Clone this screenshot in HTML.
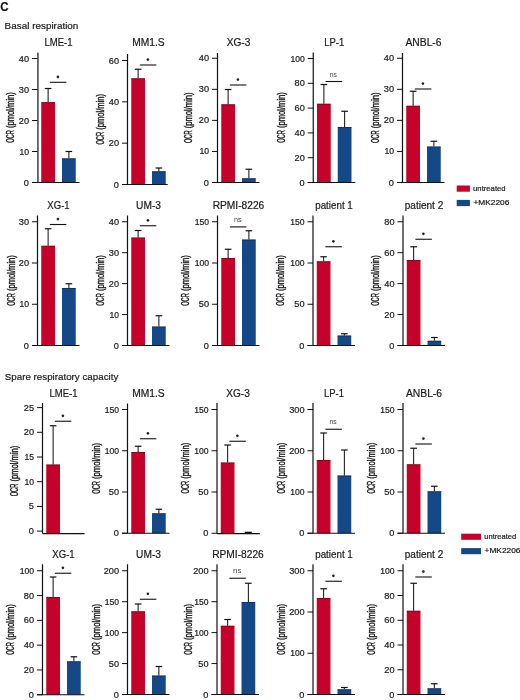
<!DOCTYPE html>
<html><head><meta charset="utf-8"><style>
html,body{margin:0;padding:0;background:#fff;}
svg{display:block;will-change:transform;}
text{font-family:"Liberation Sans",sans-serif;fill:#1a1a1a;stroke:#1a1a1a;stroke-width:0.2px;}
.tk{font-size:8.6px;text-anchor:end;}
.yl{font-size:10.2px;stroke-width:0.4px;}
.tt{font-size:10px;text-anchor:middle;}
.st{font-size:9px;text-anchor:middle;}
.ns{font-size:7.6px;text-anchor:middle;fill:#444;stroke:none;}
.lg{font-size:7.3px;}
.hd{font-size:9.8px;}
.hc{font-size:12px;font-weight:bold;fill:#111;}
</style></head><body>
<svg width="520" height="700" viewBox="0 0 520 700">

<text x="0.2" y="10.7" class="hc" textLength="8.3" lengthAdjust="spacingAndGlyphs">C</text>
<text x="4.6" y="29.2" class="hd" textLength="73.8" lengthAdjust="spacingAndGlyphs">Basal respiration</text>
<text x="4.8" y="380" class="hd" textLength="113.5" lengthAdjust="spacingAndGlyphs">Spare respiratory capacity</text>

<rect x="41.25" y="102.1" width="13.75" height="80.4" fill="#c5022a"/>
<rect x="62" y="158.3" width="13.75" height="24.2" fill="#144887"/>
<path d="M41.25 102.55H55" stroke="#000" stroke-opacity="0.35" stroke-width="0.9" fill="none"/>
<path d="M48.12 102.1V88.5" stroke="#1a1a1a" stroke-width="1.05" fill="none"/><path d="M44.83 88.5H51.42" stroke="#111" stroke-width="1.2" fill="none"/>
<path d="M62 158.75H75.75" stroke="#000" stroke-opacity="0.35" stroke-width="0.9" fill="none"/>
<path d="M68.88 158.3V151.5" stroke="#1a1a1a" stroke-width="1.05" fill="none"/><path d="M65.58 151.5H72.17" stroke="#111" stroke-width="1.2" fill="none"/>
<path d="M37.95 52.5V182.5M32 182.5H79.5" stroke="#111" stroke-width="1.2" fill="none"/>
<path d="M32 182.5H37.5M32 151.5H37.5M32 120.5H37.5M32 89.5H37.5M32 58.5H37.5" stroke="#111" stroke-width="1" fill="none"/>
<text x="29" y="185.5" class="tk" textLength="5.11" lengthAdjust="spacingAndGlyphs">0</text>
<text x="29" y="154.5" class="tk">10</text>
<text x="29" y="123.5" class="tk" textLength="10.23" lengthAdjust="spacingAndGlyphs">20</text>
<text x="29" y="92.5" class="tk" textLength="10.23" lengthAdjust="spacingAndGlyphs">30</text>
<text x="29" y="61.5" class="tk" textLength="10.23" lengthAdjust="spacingAndGlyphs">40</text>
<g transform="translate(13.7 117.5) rotate(-90)"><text class="yl" x="-25.3" textLength="12.6" lengthAdjust="spacingAndGlyphs">OCR</text><text class="yl" x="-10.6" textLength="36" lengthAdjust="spacingAndGlyphs">(pmol/min)</text></g>
<text x="58.5" y="46.4" class="tt" textLength="28" lengthAdjust="spacingAndGlyphs">LME-1</text>
<path d="M49.85 82.3H66.35" stroke="#111" stroke-width="1.1" fill="none"/>
<circle cx="57.9" cy="76.9" r="1.3" fill="#222"/>
<rect x="131.25" y="78.25" width="13.75" height="106.25" fill="#c5022a"/>
<rect x="152" y="171.25" width="13.75" height="13.25" fill="#144887"/>
<path d="M131.25 78.7H145" stroke="#000" stroke-opacity="0.35" stroke-width="0.9" fill="none"/>
<path d="M138.12 78.25V69.25" stroke="#1a1a1a" stroke-width="1.05" fill="none"/><path d="M134.82 69.25H141.43" stroke="#111" stroke-width="1.2" fill="none"/>
<path d="M152 171.7H165.75" stroke="#000" stroke-opacity="0.35" stroke-width="0.9" fill="none"/>
<path d="M158.88 171.25V168" stroke="#1a1a1a" stroke-width="1.05" fill="none"/><path d="M155.57 168H162.18" stroke="#111" stroke-width="1.2" fill="none"/>
<path d="M127.5 54V184.5M122 184.5H167.7" stroke="#111" stroke-width="1.2" fill="none"/>
<path d="M122 184.5H127.5M122 143.17H127.5M122 101.83H127.5M122 60.5H127.5" stroke="#111" stroke-width="1" fill="none"/>
<text x="119" y="187.5" class="tk" textLength="5.11" lengthAdjust="spacingAndGlyphs">0</text>
<text x="119" y="146.17" class="tk" textLength="10.23" lengthAdjust="spacingAndGlyphs">20</text>
<text x="119" y="104.83" class="tk" textLength="10.23" lengthAdjust="spacingAndGlyphs">40</text>
<text x="119" y="63.5" class="tk" textLength="10.23" lengthAdjust="spacingAndGlyphs">60</text>
<g transform="translate(103.9 119.25) rotate(-90)"><text class="yl" x="-25.3" textLength="12.6" lengthAdjust="spacingAndGlyphs">OCR</text><text class="yl" x="-10.6" textLength="36" lengthAdjust="spacingAndGlyphs">(pmol/min)</text></g>
<text x="148.5" y="46.4" class="tt" textLength="32.4" lengthAdjust="spacingAndGlyphs">MM1.S</text>
<path d="M139.85 65H156.35" stroke="#111" stroke-width="1.1" fill="none"/>
<circle cx="147.9" cy="59.6" r="1.3" fill="#222"/>
<rect x="221.25" y="104.25" width="13.75" height="78.25" fill="#c5022a"/>
<rect x="242" y="178.25" width="13.75" height="4.25" fill="#144887"/>
<path d="M221.25 104.7H235" stroke="#000" stroke-opacity="0.35" stroke-width="0.9" fill="none"/>
<path d="M228.12 104.25V89.5" stroke="#1a1a1a" stroke-width="1.05" fill="none"/><path d="M224.82 89.5H231.43" stroke="#111" stroke-width="1.2" fill="none"/>
<path d="M242 178.7H255.75" stroke="#000" stroke-opacity="0.35" stroke-width="0.9" fill="none"/>
<path d="M248.88 178.25V169.25" stroke="#1a1a1a" stroke-width="1.05" fill="none"/><path d="M245.57 169.25H252.18" stroke="#111" stroke-width="1.2" fill="none"/>
<path d="M217.5 53V182.5M212 182.5H259.5" stroke="#111" stroke-width="1.2" fill="none"/>
<path d="M212 182.5H217.5M212 151.44H217.5M212 120.38H217.5M212 89.31H217.5M212 58.25H217.5" stroke="#111" stroke-width="1" fill="none"/>
<text x="209" y="185.5" class="tk" textLength="5.11" lengthAdjust="spacingAndGlyphs">0</text>
<text x="209" y="154.44" class="tk">10</text>
<text x="209" y="123.38" class="tk" textLength="10.23" lengthAdjust="spacingAndGlyphs">20</text>
<text x="209" y="92.31" class="tk" textLength="10.23" lengthAdjust="spacingAndGlyphs">30</text>
<text x="209" y="61.25" class="tk" textLength="10.23" lengthAdjust="spacingAndGlyphs">40</text>
<g transform="translate(192.4 117.75) rotate(-90)"><text class="yl" x="-25.3" textLength="12.6" lengthAdjust="spacingAndGlyphs">OCR</text><text class="yl" x="-10.6" textLength="36" lengthAdjust="spacingAndGlyphs">(pmol/min)</text></g>
<text x="238.5" y="46.4" class="tt" textLength="23.6" lengthAdjust="spacingAndGlyphs">XG-3</text>
<path d="M229.85 85H246.35" stroke="#111" stroke-width="1.1" fill="none"/>
<circle cx="237.9" cy="79.6" r="1.3" fill="#222"/>
<rect x="317" y="103.75" width="13.75" height="78.75" fill="#c5022a"/>
<rect x="337.75" y="127" width="13.75" height="55.5" fill="#144887"/>
<path d="M317 104.2H330.75" stroke="#000" stroke-opacity="0.35" stroke-width="0.9" fill="none"/>
<path d="M323.88 103.75V84.5" stroke="#1a1a1a" stroke-width="1.05" fill="none"/><path d="M320.57 84.5H327.18" stroke="#111" stroke-width="1.2" fill="none"/>
<path d="M337.75 127.45H351.5" stroke="#000" stroke-opacity="0.35" stroke-width="0.9" fill="none"/>
<path d="M344.62 127V111.25" stroke="#1a1a1a" stroke-width="1.05" fill="none"/><path d="M341.32 111.25H347.93" stroke="#111" stroke-width="1.2" fill="none"/>
<path d="M313.25 52.5V182.5M307.75 182.5H355.25" stroke="#111" stroke-width="1.2" fill="none"/>
<path d="M307.75 182.5H313.25M307.75 157.7H313.25M307.75 132.9H313.25M307.75 108.1H313.25M307.75 83.3H313.25M307.75 58.5H313.25" stroke="#111" stroke-width="1" fill="none"/>
<text x="304.75" y="185.5" class="tk" textLength="5.11" lengthAdjust="spacingAndGlyphs">0</text>
<text x="304.75" y="160.7" class="tk" textLength="10.23" lengthAdjust="spacingAndGlyphs">20</text>
<text x="304.75" y="135.9" class="tk" textLength="10.23" lengthAdjust="spacingAndGlyphs">40</text>
<text x="304.75" y="111.1" class="tk" textLength="10.23" lengthAdjust="spacingAndGlyphs">60</text>
<text x="304.75" y="86.3" class="tk" textLength="10.23" lengthAdjust="spacingAndGlyphs">80</text>
<text x="304.75" y="61.5" class="tk">100</text>
<g transform="translate(284.65 117.5) rotate(-90)"><text class="yl" x="-25.3" textLength="12.6" lengthAdjust="spacingAndGlyphs">OCR</text><text class="yl" x="-10.6" textLength="36" lengthAdjust="spacingAndGlyphs">(pmol/min)</text></g>
<text x="334.25" y="46.4" class="tt" textLength="20" lengthAdjust="spacingAndGlyphs">LP-1</text>
<path d="M325.6 81.5H342.1" stroke="#111" stroke-width="1.1" fill="none"/>
<text x="333.45" y="76.6" class="ns" style="font-size:6.8px">ns</text>
<rect x="406.25" y="105.75" width="13.75" height="76.75" fill="#c5022a"/>
<rect x="427" y="146.5" width="13.75" height="36" fill="#144887"/>
<path d="M406.25 106.2H420" stroke="#000" stroke-opacity="0.35" stroke-width="0.9" fill="none"/>
<path d="M413.12 105.75V91.25" stroke="#1a1a1a" stroke-width="1.05" fill="none"/><path d="M409.82 91.25H416.43" stroke="#111" stroke-width="1.2" fill="none"/>
<path d="M427 146.95H440.75" stroke="#000" stroke-opacity="0.35" stroke-width="0.9" fill="none"/>
<path d="M433.88 146.5V141.25" stroke="#1a1a1a" stroke-width="1.05" fill="none"/><path d="M430.57 141.25H437.18" stroke="#111" stroke-width="1.2" fill="none"/>
<path d="M402.5 53V182.5M397 182.5H444.5" stroke="#111" stroke-width="1.2" fill="none"/>
<path d="M397 182.5H402.5M397 151.44H402.5M397 120.38H402.5M397 89.31H402.5M397 58.25H402.5" stroke="#111" stroke-width="1" fill="none"/>
<text x="394" y="185.5" class="tk" textLength="5.11" lengthAdjust="spacingAndGlyphs">0</text>
<text x="394" y="154.44" class="tk">10</text>
<text x="394" y="123.38" class="tk" textLength="10.23" lengthAdjust="spacingAndGlyphs">20</text>
<text x="394" y="92.31" class="tk" textLength="10.23" lengthAdjust="spacingAndGlyphs">30</text>
<text x="394" y="61.25" class="tk" textLength="10.23" lengthAdjust="spacingAndGlyphs">40</text>
<g transform="translate(378.9 117.75) rotate(-90)"><text class="yl" x="-25.3" textLength="12.6" lengthAdjust="spacingAndGlyphs">OCR</text><text class="yl" x="-10.6" textLength="36" lengthAdjust="spacingAndGlyphs">(pmol/min)</text></g>
<text x="423.5" y="46.4" class="tt" textLength="36.1" lengthAdjust="spacingAndGlyphs">ANBL-6</text>
<path d="M414.85 89H431.35" stroke="#111" stroke-width="1.1" fill="none"/>
<circle cx="422.9" cy="83.6" r="1.3" fill="#222"/>
<rect x="41.25" y="245.75" width="13.75" height="99.75" fill="#c5022a"/>
<rect x="62" y="288" width="13.75" height="57.5" fill="#144887"/>
<path d="M41.25 246.2H55" stroke="#000" stroke-opacity="0.35" stroke-width="0.9" fill="none"/>
<path d="M48.12 245.75V228.75" stroke="#1a1a1a" stroke-width="1.05" fill="none"/><path d="M44.83 228.75H51.42" stroke="#111" stroke-width="1.2" fill="none"/>
<path d="M62 288.45H75.75" stroke="#000" stroke-opacity="0.35" stroke-width="0.9" fill="none"/>
<path d="M68.88 288V283.75" stroke="#1a1a1a" stroke-width="1.05" fill="none"/><path d="M65.58 283.75H72.17" stroke="#111" stroke-width="1.2" fill="none"/>
<path d="M37.5 215.5V345.5M32 345.5H79.5" stroke="#111" stroke-width="1.2" fill="none"/>
<path d="M32 345.5H37.5M32 304.25H37.5M32 263H37.5M32 221.75H37.5" stroke="#111" stroke-width="1" fill="none"/>
<text x="29" y="348.5" class="tk" textLength="5.11" lengthAdjust="spacingAndGlyphs">0</text>
<text x="29" y="307.25" class="tk">10</text>
<text x="29" y="266" class="tk" textLength="10.23" lengthAdjust="spacingAndGlyphs">20</text>
<text x="29" y="224.75" class="tk" textLength="10.23" lengthAdjust="spacingAndGlyphs">30</text>
<g transform="translate(14.65 280.5) rotate(-90)"><text class="yl" x="-25.3" textLength="12.6" lengthAdjust="spacingAndGlyphs">OCR</text><text class="yl" x="-10.6" textLength="36" lengthAdjust="spacingAndGlyphs">(pmol/min)</text></g>
<text x="58.5" y="209.2" class="tt" textLength="22.35" lengthAdjust="spacingAndGlyphs">XG-1</text>
<path d="M49.85 224.5H66.35" stroke="#111" stroke-width="1.1" fill="none"/>
<circle cx="57.9" cy="219.1" r="1.3" fill="#222"/>
<rect x="131.25" y="237.5" width="13.75" height="108" fill="#c5022a"/>
<rect x="152" y="326.5" width="13.75" height="19" fill="#144887"/>
<path d="M131.25 237.95H145" stroke="#000" stroke-opacity="0.35" stroke-width="0.9" fill="none"/>
<path d="M138.12 237.5V230.5" stroke="#1a1a1a" stroke-width="1.05" fill="none"/><path d="M134.82 230.5H141.43" stroke="#111" stroke-width="1.2" fill="none"/>
<path d="M152 326.95H165.75" stroke="#000" stroke-opacity="0.35" stroke-width="0.9" fill="none"/>
<path d="M158.88 326.5V315.75" stroke="#1a1a1a" stroke-width="1.05" fill="none"/><path d="M155.57 315.75H162.18" stroke="#111" stroke-width="1.2" fill="none"/>
<path d="M127.5 215.5V345.5M122 345.5H169.5" stroke="#111" stroke-width="1.2" fill="none"/>
<path d="M122 345.5H127.5M122 314.56H127.5M122 283.62H127.5M122 252.69H127.5M122 221.75H127.5" stroke="#111" stroke-width="1" fill="none"/>
<text x="119" y="348.5" class="tk" textLength="5.11" lengthAdjust="spacingAndGlyphs">0</text>
<text x="119" y="317.56" class="tk">10</text>
<text x="119" y="286.62" class="tk" textLength="10.23" lengthAdjust="spacingAndGlyphs">20</text>
<text x="119" y="255.69" class="tk" textLength="10.23" lengthAdjust="spacingAndGlyphs">30</text>
<text x="119" y="224.75" class="tk" textLength="10.23" lengthAdjust="spacingAndGlyphs">40</text>
<g transform="translate(103.9 280.5) rotate(-90)"><text class="yl" x="-25.3" textLength="12.6" lengthAdjust="spacingAndGlyphs">OCR</text><text class="yl" x="-10.6" textLength="36" lengthAdjust="spacingAndGlyphs">(pmol/min)</text></g>
<text x="148.5" y="209.2" class="tt" textLength="24.9" lengthAdjust="spacingAndGlyphs">UM-3</text>
<path d="M139.85 225.75H156.35" stroke="#111" stroke-width="1.1" fill="none"/>
<circle cx="147.9" cy="220.35" r="1.3" fill="#222"/>
<rect x="221.25" y="258" width="13.75" height="87.5" fill="#c5022a"/>
<rect x="242" y="239.5" width="13.75" height="106" fill="#144887"/>
<path d="M221.25 258.45H235" stroke="#000" stroke-opacity="0.35" stroke-width="0.9" fill="none"/>
<path d="M228.12 258V249.25" stroke="#1a1a1a" stroke-width="1.05" fill="none"/><path d="M224.82 249.25H231.43" stroke="#111" stroke-width="1.2" fill="none"/>
<path d="M242 239.95H255.75" stroke="#000" stroke-opacity="0.35" stroke-width="0.9" fill="none"/>
<path d="M248.88 239.5V230.75" stroke="#1a1a1a" stroke-width="1.05" fill="none"/><path d="M245.57 230.75H252.18" stroke="#111" stroke-width="1.2" fill="none"/>
<path d="M217.5 215.5V345.5M212 345.5H259.5" stroke="#111" stroke-width="1.2" fill="none"/>
<path d="M212 345.5H217.5M212 304.25H217.5M212 263H217.5M212 221.75H217.5" stroke="#111" stroke-width="1" fill="none"/>
<text x="209" y="348.5" class="tk" textLength="5.11" lengthAdjust="spacingAndGlyphs">0</text>
<text x="209" y="307.25" class="tk" textLength="10.23" lengthAdjust="spacingAndGlyphs">50</text>
<text x="209" y="266" class="tk">100</text>
<text x="209" y="224.75" class="tk">150</text>
<g transform="translate(189.4 280.5) rotate(-90)"><text class="yl" x="-25.3" textLength="12.6" lengthAdjust="spacingAndGlyphs">OCR</text><text class="yl" x="-10.6" textLength="36" lengthAdjust="spacingAndGlyphs">(pmol/min)</text></g>
<text x="238.5" y="209.2" class="tt" textLength="51.6" lengthAdjust="spacingAndGlyphs">RPMI-8226</text>
<path d="M229.85 226.9H246.35" stroke="#111" stroke-width="1.1" fill="none"/>
<text x="237.7" y="222" class="ns" style="font-size:7.2px">ns</text>
<rect x="316.75" y="261.25" width="13.75" height="84.25" fill="#c5022a"/>
<rect x="337.5" y="335.5" width="13.75" height="10" fill="#144887"/>
<path d="M316.75 261.7H330.5" stroke="#000" stroke-opacity="0.35" stroke-width="0.9" fill="none"/>
<path d="M323.62 261.25V256.75" stroke="#1a1a1a" stroke-width="1.05" fill="none"/><path d="M320.32 256.75H326.93" stroke="#111" stroke-width="1.2" fill="none"/>
<path d="M337.5 335.95H351.25" stroke="#000" stroke-opacity="0.35" stroke-width="0.9" fill="none"/>
<path d="M344.38 335.5V333.75" stroke="#1a1a1a" stroke-width="1.05" fill="none"/><path d="M341.07 333.75H347.68" stroke="#111" stroke-width="1.2" fill="none"/>
<path d="M313 215.5V345.5M307.5 345.5H355" stroke="#111" stroke-width="1.2" fill="none"/>
<path d="M307.5 345.5H313M307.5 304.25H313M307.5 263H313M307.5 221.75H313" stroke="#111" stroke-width="1" fill="none"/>
<text x="304.5" y="348.5" class="tk" textLength="5.11" lengthAdjust="spacingAndGlyphs">0</text>
<text x="304.5" y="307.25" class="tk" textLength="10.23" lengthAdjust="spacingAndGlyphs">50</text>
<text x="304.5" y="266" class="tk">100</text>
<text x="304.5" y="224.75" class="tk">150</text>
<g transform="translate(284.4 280.5) rotate(-90)"><text class="yl" x="-25.3" textLength="12.6" lengthAdjust="spacingAndGlyphs">OCR</text><text class="yl" x="-10.6" textLength="36" lengthAdjust="spacingAndGlyphs">(pmol/min)</text></g>
<text x="334" y="209.2" class="tt" textLength="37.6" lengthAdjust="spacingAndGlyphs">patient 1</text>
<path d="M325.35 246.75H341.85" stroke="#111" stroke-width="1.1" fill="none"/>
<circle cx="333.4" cy="241.35" r="1.3" fill="#222"/>
<rect x="406.75" y="260" width="13.75" height="85.5" fill="#c5022a"/>
<rect x="427.5" y="340.75" width="13.75" height="4.75" fill="#144887"/>
<path d="M406.75 260.45H420.5" stroke="#000" stroke-opacity="0.35" stroke-width="0.9" fill="none"/>
<path d="M413.62 260V246.75" stroke="#1a1a1a" stroke-width="1.05" fill="none"/><path d="M410.32 246.75H416.93" stroke="#111" stroke-width="1.2" fill="none"/>
<path d="M427.5 341.2H441.25" stroke="#000" stroke-opacity="0.35" stroke-width="0.9" fill="none"/>
<path d="M434.38 340.75V337.5" stroke="#1a1a1a" stroke-width="1.05" fill="none"/><path d="M431.07 337.5H437.68" stroke="#111" stroke-width="1.2" fill="none"/>
<path d="M403 215.5V345.5M397.5 345.5H445" stroke="#111" stroke-width="1.2" fill="none"/>
<path d="M397.5 345.5H403M397.5 314.56H403M397.5 283.62H403M397.5 252.69H403M397.5 221.75H403" stroke="#111" stroke-width="1" fill="none"/>
<text x="394.5" y="348.5" class="tk" textLength="5.11" lengthAdjust="spacingAndGlyphs">0</text>
<text x="394.5" y="317.56" class="tk" textLength="10.23" lengthAdjust="spacingAndGlyphs">20</text>
<text x="394.5" y="286.62" class="tk" textLength="10.23" lengthAdjust="spacingAndGlyphs">40</text>
<text x="394.5" y="255.69" class="tk" textLength="10.23" lengthAdjust="spacingAndGlyphs">60</text>
<text x="394.5" y="224.75" class="tk" textLength="10.23" lengthAdjust="spacingAndGlyphs">80</text>
<g transform="translate(378.9 280.5) rotate(-90)"><text class="yl" x="-25.3" textLength="12.6" lengthAdjust="spacingAndGlyphs">OCR</text><text class="yl" x="-10.6" textLength="36" lengthAdjust="spacingAndGlyphs">(pmol/min)</text></g>
<text x="424" y="209.2" class="tt" textLength="38.6" lengthAdjust="spacingAndGlyphs">patient 2</text>
<path d="M415.35 239.25H431.85" stroke="#111" stroke-width="1.1" fill="none"/>
<circle cx="423.4" cy="233.85" r="1.3" fill="#222"/>
<rect x="46.25" y="464.5" width="13.75" height="69.1" fill="#c5022a"/>
<path d="M46.25 464.95H60" stroke="#000" stroke-opacity="0.35" stroke-width="0.9" fill="none"/>
<path d="M53.12 464.5V425.75" stroke="#1a1a1a" stroke-width="1.05" fill="none"/><path d="M49.83 425.75H56.42" stroke="#111" stroke-width="1.2" fill="none"/>
<path d="M42.5 403V533.6M42.5 533.6H84.5" stroke="#111" stroke-width="1.2" fill="none"/>
<path d="M37 531.1H42.5M37 506.4H42.5M37 481.7H42.5M37 457H42.5M37 432.3H42.5M37 407.6H42.5" stroke="#111" stroke-width="1" fill="none"/>
<text x="34" y="534.1" class="tk" textLength="5.11" lengthAdjust="spacingAndGlyphs">0</text>
<text x="34" y="509.4" class="tk" textLength="5.11" lengthAdjust="spacingAndGlyphs">5</text>
<text x="34" y="484.7" class="tk">10</text>
<text x="34" y="460" class="tk">15</text>
<text x="34" y="435.3" class="tk" textLength="10.23" lengthAdjust="spacingAndGlyphs">20</text>
<text x="34" y="410.6" class="tk" textLength="10.23" lengthAdjust="spacingAndGlyphs">25</text>
<g transform="translate(17.9 471) rotate(-90)"><text class="yl" x="-25.3" textLength="12.6" lengthAdjust="spacingAndGlyphs">OCR</text><text class="yl" x="-10.6" textLength="36" lengthAdjust="spacingAndGlyphs">(pmol/min)</text></g>
<text x="63.5" y="396.5" class="tt" textLength="28" lengthAdjust="spacingAndGlyphs">LME-1</text>
<path d="M54.85 421.25H71.35" stroke="#111" stroke-width="1.1" fill="none"/>
<circle cx="62.9" cy="415.85" r="1.3" fill="#222"/>
<rect x="131.25" y="452" width="13.75" height="81.25" fill="#c5022a"/>
<rect x="152" y="513.25" width="13.75" height="20" fill="#144887"/>
<path d="M131.25 452.45H145" stroke="#000" stroke-opacity="0.35" stroke-width="0.9" fill="none"/>
<path d="M138.12 452V446.25" stroke="#1a1a1a" stroke-width="1.05" fill="none"/><path d="M134.82 446.25H141.43" stroke="#111" stroke-width="1.2" fill="none"/>
<path d="M152 513.7H165.75" stroke="#000" stroke-opacity="0.35" stroke-width="0.9" fill="none"/>
<path d="M158.88 513.25V509.25" stroke="#1a1a1a" stroke-width="1.05" fill="none"/><path d="M155.57 509.25H162.18" stroke="#111" stroke-width="1.2" fill="none"/>
<path d="M127.5 403.5V533.25M122 533.25H169.5" stroke="#111" stroke-width="1.2" fill="none"/>
<path d="M122 533.25H127.5M122 492H127.5M122 450.75H127.5M122 409.5H127.5" stroke="#111" stroke-width="1" fill="none"/>
<text x="119" y="536.25" class="tk" textLength="5.11" lengthAdjust="spacingAndGlyphs">0</text>
<text x="119" y="495" class="tk" textLength="10.23" lengthAdjust="spacingAndGlyphs">50</text>
<text x="119" y="453.75" class="tk">100</text>
<text x="119" y="412.5" class="tk">150</text>
<g transform="translate(100.4 468.38) rotate(-90)"><text class="yl" x="-25.3" textLength="12.6" lengthAdjust="spacingAndGlyphs">OCR</text><text class="yl" x="-10.6" textLength="36" lengthAdjust="spacingAndGlyphs">(pmol/min)</text></g>
<text x="148.5" y="396.5" class="tt" textLength="32.4" lengthAdjust="spacingAndGlyphs">MM1.S</text>
<path d="M139.85 438.75H156.35" stroke="#111" stroke-width="1.1" fill="none"/>
<circle cx="147.9" cy="433.35" r="1.3" fill="#222"/>
<rect x="220.75" y="462.5" width="13.75" height="71.1" fill="#c5022a"/>
<path d="M220.75 462.95H234.5" stroke="#000" stroke-opacity="0.35" stroke-width="0.9" fill="none"/>
<path d="M227.62 462.5V445" stroke="#1a1a1a" stroke-width="1.05" fill="none"/><path d="M224.32 445H230.93" stroke="#111" stroke-width="1.2" fill="none"/>
<rect x="244.78" y="531.7" width="7" height="1.6" fill="#111"/>
<path d="M217 403V533.6M217 533.6H259.8" stroke="#111" stroke-width="1.2" fill="none"/>
<path d="M211.5 533.25H217M211.5 492H217M211.5 450.75H217M211.5 409.5H217" stroke="#111" stroke-width="1" fill="none"/>
<text x="208.5" y="536.25" class="tk" textLength="5.11" lengthAdjust="spacingAndGlyphs">0</text>
<text x="208.5" y="495" class="tk" textLength="10.23" lengthAdjust="spacingAndGlyphs">50</text>
<text x="208.5" y="453.75" class="tk">100</text>
<text x="208.5" y="412.5" class="tk">150</text>
<g transform="translate(189.4 468.12) rotate(-90)"><text class="yl" x="-25.3" textLength="12.6" lengthAdjust="spacingAndGlyphs">OCR</text><text class="yl" x="-10.6" textLength="36" lengthAdjust="spacingAndGlyphs">(pmol/min)</text></g>
<text x="238" y="396.5" class="tt" textLength="23.6" lengthAdjust="spacingAndGlyphs">XG-3</text>
<path d="M229.35 441.25H245.85" stroke="#111" stroke-width="1.1" fill="none"/>
<circle cx="237.4" cy="435.85" r="1.3" fill="#222"/>
<rect x="316.75" y="460" width="13.75" height="73.25" fill="#c5022a"/>
<rect x="337.5" y="475.5" width="13.75" height="57.75" fill="#144887"/>
<path d="M316.75 460.45H330.5" stroke="#000" stroke-opacity="0.35" stroke-width="0.9" fill="none"/>
<path d="M323.62 460V433" stroke="#1a1a1a" stroke-width="1.05" fill="none"/><path d="M320.32 433H326.93" stroke="#111" stroke-width="1.2" fill="none"/>
<path d="M337.5 475.95H351.25" stroke="#000" stroke-opacity="0.35" stroke-width="0.9" fill="none"/>
<path d="M344.38 475.5V450" stroke="#1a1a1a" stroke-width="1.05" fill="none"/><path d="M341.07 450H347.68" stroke="#111" stroke-width="1.2" fill="none"/>
<path d="M313 403V533.25M307.5 533.25H355" stroke="#111" stroke-width="1.2" fill="none"/>
<path d="M307.5 533.25H313M307.5 492H313M307.5 450.75H313M307.5 409.5H313" stroke="#111" stroke-width="1" fill="none"/>
<text x="304.5" y="536.25" class="tk" textLength="5.11" lengthAdjust="spacingAndGlyphs">0</text>
<text x="304.5" y="495" class="tk">100</text>
<text x="304.5" y="453.75" class="tk" textLength="15.34" lengthAdjust="spacingAndGlyphs">200</text>
<text x="304.5" y="412.5" class="tk" textLength="15.34" lengthAdjust="spacingAndGlyphs">300</text>
<g transform="translate(285.15 468.12) rotate(-90)"><text class="yl" x="-25.3" textLength="12.6" lengthAdjust="spacingAndGlyphs">OCR</text><text class="yl" x="-10.6" textLength="36" lengthAdjust="spacingAndGlyphs">(pmol/min)</text></g>
<text x="334" y="396.5" class="tt" textLength="20" lengthAdjust="spacingAndGlyphs">LP-1</text>
<path d="M325.35 429.25H341.85" stroke="#111" stroke-width="1.1" fill="none"/>
<text x="333.2" y="424.35" class="ns" style="font-size:6.8px">ns</text>
<rect x="406.75" y="464.25" width="13.75" height="69" fill="#c5022a"/>
<rect x="427.5" y="491.25" width="13.75" height="42" fill="#144887"/>
<path d="M406.75 464.7H420.5" stroke="#000" stroke-opacity="0.35" stroke-width="0.9" fill="none"/>
<path d="M413.62 464.25V448.25" stroke="#1a1a1a" stroke-width="1.05" fill="none"/><path d="M410.32 448.25H416.93" stroke="#111" stroke-width="1.2" fill="none"/>
<path d="M427.5 491.7H441.25" stroke="#000" stroke-opacity="0.35" stroke-width="0.9" fill="none"/>
<path d="M434.38 491.25V486.25" stroke="#1a1a1a" stroke-width="1.05" fill="none"/><path d="M431.07 486.25H437.68" stroke="#111" stroke-width="1.2" fill="none"/>
<path d="M403 403V533.25M397.5 533.25H445" stroke="#111" stroke-width="1.2" fill="none"/>
<path d="M397.5 533.25H403M397.5 492H403M397.5 450.75H403M397.5 409.5H403" stroke="#111" stroke-width="1" fill="none"/>
<text x="394.5" y="536.25" class="tk" textLength="5.11" lengthAdjust="spacingAndGlyphs">0</text>
<text x="394.5" y="495" class="tk" textLength="10.23" lengthAdjust="spacingAndGlyphs">50</text>
<text x="394.5" y="453.75" class="tk">100</text>
<text x="394.5" y="412.5" class="tk">150</text>
<g transform="translate(375.15 468.12) rotate(-90)"><text class="yl" x="-25.3" textLength="12.6" lengthAdjust="spacingAndGlyphs">OCR</text><text class="yl" x="-10.6" textLength="36" lengthAdjust="spacingAndGlyphs">(pmol/min)</text></g>
<text x="424" y="396.5" class="tt" textLength="36.1" lengthAdjust="spacingAndGlyphs">ANBL-6</text>
<path d="M415.35 444H431.85" stroke="#111" stroke-width="1.1" fill="none"/>
<circle cx="423.4" cy="438.6" r="1.3" fill="#222"/>
<rect x="46.25" y="597" width="13.75" height="97.75" fill="#c5022a"/>
<rect x="67" y="661.25" width="13.75" height="33.5" fill="#144887"/>
<path d="M46.25 597.45H60" stroke="#000" stroke-opacity="0.35" stroke-width="0.9" fill="none"/>
<path d="M53.12 597V577" stroke="#1a1a1a" stroke-width="1.05" fill="none"/><path d="M49.83 577H56.42" stroke="#111" stroke-width="1.2" fill="none"/>
<path d="M67 661.7H80.75" stroke="#000" stroke-opacity="0.35" stroke-width="0.9" fill="none"/>
<path d="M73.88 661.25V656.75" stroke="#1a1a1a" stroke-width="1.05" fill="none"/><path d="M70.58 656.75H77.17" stroke="#111" stroke-width="1.2" fill="none"/>
<path d="M42.5 564.25V694.75M37 694.75H84.5" stroke="#111" stroke-width="1.2" fill="none"/>
<path d="M37 694.75H42.5M37 669.95H42.5M37 645.15H42.5M37 620.35H42.5M37 595.55H42.5M37 570.75H42.5" stroke="#111" stroke-width="1" fill="none"/>
<text x="34" y="697.75" class="tk" textLength="5.11" lengthAdjust="spacingAndGlyphs">0</text>
<text x="34" y="672.95" class="tk" textLength="10.23" lengthAdjust="spacingAndGlyphs">20</text>
<text x="34" y="648.15" class="tk" textLength="10.23" lengthAdjust="spacingAndGlyphs">40</text>
<text x="34" y="623.35" class="tk" textLength="10.23" lengthAdjust="spacingAndGlyphs">60</text>
<text x="34" y="598.55" class="tk" textLength="10.23" lengthAdjust="spacingAndGlyphs">80</text>
<text x="34" y="573.75" class="tk">100</text>
<g transform="translate(14.4 629.5) rotate(-90)"><text class="yl" x="-25.3" textLength="12.6" lengthAdjust="spacingAndGlyphs">OCR</text><text class="yl" x="-10.6" textLength="36" lengthAdjust="spacingAndGlyphs">(pmol/min)</text></g>
<text x="63.5" y="557.6" class="tt" textLength="22.35" lengthAdjust="spacingAndGlyphs">XG-1</text>
<path d="M54.85 573.25H71.35" stroke="#111" stroke-width="1.1" fill="none"/>
<circle cx="62.9" cy="567.85" r="1.3" fill="#222"/>
<rect x="131.25" y="611.25" width="13.75" height="83.25" fill="#c5022a"/>
<rect x="152" y="675.5" width="13.75" height="19" fill="#144887"/>
<path d="M131.25 611.7H145" stroke="#000" stroke-opacity="0.35" stroke-width="0.9" fill="none"/>
<path d="M138.12 611.25V604" stroke="#1a1a1a" stroke-width="1.05" fill="none"/><path d="M134.82 604H141.43" stroke="#111" stroke-width="1.2" fill="none"/>
<path d="M152 675.95H165.75" stroke="#000" stroke-opacity="0.35" stroke-width="0.9" fill="none"/>
<path d="M158.88 675.5V666.5" stroke="#1a1a1a" stroke-width="1.05" fill="none"/><path d="M155.57 666.5H162.18" stroke="#111" stroke-width="1.2" fill="none"/>
<path d="M127.5 564.25V694.5M122 694.5H169.5" stroke="#111" stroke-width="1.2" fill="none"/>
<path d="M122 694.5H127.5M122 663.56H127.5M122 632.62H127.5M122 601.69H127.5M122 570.75H127.5" stroke="#111" stroke-width="1" fill="none"/>
<text x="119" y="697.5" class="tk" textLength="5.11" lengthAdjust="spacingAndGlyphs">0</text>
<text x="119" y="666.56" class="tk" textLength="10.23" lengthAdjust="spacingAndGlyphs">50</text>
<text x="119" y="635.62" class="tk">100</text>
<text x="119" y="604.69" class="tk">150</text>
<text x="119" y="573.75" class="tk" textLength="15.34" lengthAdjust="spacingAndGlyphs">200</text>
<g transform="translate(100.4 629.38) rotate(-90)"><text class="yl" x="-25.3" textLength="12.6" lengthAdjust="spacingAndGlyphs">OCR</text><text class="yl" x="-10.6" textLength="36" lengthAdjust="spacingAndGlyphs">(pmol/min)</text></g>
<text x="148.5" y="557.6" class="tt" textLength="24.9" lengthAdjust="spacingAndGlyphs">UM-3</text>
<path d="M139.85 599.25H156.35" stroke="#111" stroke-width="1.1" fill="none"/>
<circle cx="147.9" cy="593.85" r="1.3" fill="#222"/>
<rect x="220.75" y="625.75" width="13.75" height="68.75" fill="#c5022a"/>
<rect x="241.5" y="602" width="13.75" height="92.5" fill="#144887"/>
<path d="M220.75 626.2H234.5" stroke="#000" stroke-opacity="0.35" stroke-width="0.9" fill="none"/>
<path d="M227.62 625.75V619.5" stroke="#1a1a1a" stroke-width="1.05" fill="none"/><path d="M224.32 619.5H230.93" stroke="#111" stroke-width="1.2" fill="none"/>
<path d="M241.5 602.45H255.25" stroke="#000" stroke-opacity="0.35" stroke-width="0.9" fill="none"/>
<path d="M248.38 602V583.25" stroke="#1a1a1a" stroke-width="1.05" fill="none"/><path d="M245.07 583.25H251.68" stroke="#111" stroke-width="1.2" fill="none"/>
<path d="M217 564.25V694.5M211.5 694.5H259" stroke="#111" stroke-width="1.2" fill="none"/>
<path d="M211.5 694.5H217M211.5 663.56H217M211.5 632.62H217M211.5 601.69H217M211.5 570.75H217" stroke="#111" stroke-width="1" fill="none"/>
<text x="208.5" y="697.5" class="tk" textLength="5.11" lengthAdjust="spacingAndGlyphs">0</text>
<text x="208.5" y="666.56" class="tk" textLength="10.23" lengthAdjust="spacingAndGlyphs">50</text>
<text x="208.5" y="635.62" class="tk">100</text>
<text x="208.5" y="604.69" class="tk">150</text>
<text x="208.5" y="573.75" class="tk" textLength="15.34" lengthAdjust="spacingAndGlyphs">200</text>
<g transform="translate(191.9 629.38) rotate(-90)"><text class="yl" x="-25.3" textLength="12.6" lengthAdjust="spacingAndGlyphs">OCR</text><text class="yl" x="-10.6" textLength="36" lengthAdjust="spacingAndGlyphs">(pmol/min)</text></g>
<text x="238" y="557.6" class="tt" textLength="51.6" lengthAdjust="spacingAndGlyphs">RPMI-8226</text>
<path d="M229.35 578.25H245.85" stroke="#111" stroke-width="1.1" fill="none"/>
<text x="237.2" y="573.35" class="ns" style="font-size:7.8px">ns</text>
<rect x="316.75" y="598" width="13.75" height="96.5" fill="#c5022a"/>
<rect x="337.5" y="689.25" width="13.75" height="5.25" fill="#144887"/>
<path d="M316.75 598.45H330.5" stroke="#000" stroke-opacity="0.35" stroke-width="0.9" fill="none"/>
<path d="M323.62 598V588.75" stroke="#1a1a1a" stroke-width="1.05" fill="none"/><path d="M320.32 588.75H326.93" stroke="#111" stroke-width="1.2" fill="none"/>
<path d="M337.5 689.7H351.25" stroke="#000" stroke-opacity="0.35" stroke-width="0.9" fill="none"/>
<path d="M344.38 689.25V687.5" stroke="#1a1a1a" stroke-width="1.05" fill="none"/><path d="M341.07 687.5H347.68" stroke="#111" stroke-width="1.2" fill="none"/>
<path d="M313 564.25V694.5M307.5 694.5H355" stroke="#111" stroke-width="1.2" fill="none"/>
<path d="M307.5 694.5H313M307.5 653.25H313M307.5 612H313M307.5 570.75H313" stroke="#111" stroke-width="1" fill="none"/>
<text x="304.5" y="697.5" class="tk" textLength="5.11" lengthAdjust="spacingAndGlyphs">0</text>
<text x="304.5" y="656.25" class="tk">100</text>
<text x="304.5" y="615" class="tk" textLength="15.34" lengthAdjust="spacingAndGlyphs">200</text>
<text x="304.5" y="573.75" class="tk" textLength="15.34" lengthAdjust="spacingAndGlyphs">300</text>
<g transform="translate(284.9 629.38) rotate(-90)"><text class="yl" x="-25.3" textLength="12.6" lengthAdjust="spacingAndGlyphs">OCR</text><text class="yl" x="-10.6" textLength="36" lengthAdjust="spacingAndGlyphs">(pmol/min)</text></g>
<text x="334" y="557.6" class="tt" textLength="37.6" lengthAdjust="spacingAndGlyphs">patient 1</text>
<path d="M325.35 581.25H341.85" stroke="#111" stroke-width="1.1" fill="none"/>
<circle cx="333.4" cy="575.85" r="1.3" fill="#222"/>
<rect x="406.75" y="610.75" width="13.75" height="83.75" fill="#c5022a"/>
<rect x="427.5" y="688.25" width="13.75" height="6.25" fill="#144887"/>
<path d="M406.75 611.2H420.5" stroke="#000" stroke-opacity="0.35" stroke-width="0.9" fill="none"/>
<path d="M413.62 610.75V583.25" stroke="#1a1a1a" stroke-width="1.05" fill="none"/><path d="M410.32 583.25H416.93" stroke="#111" stroke-width="1.2" fill="none"/>
<path d="M427.5 688.7H441.25" stroke="#000" stroke-opacity="0.35" stroke-width="0.9" fill="none"/>
<path d="M434.38 688.25V683.75" stroke="#1a1a1a" stroke-width="1.05" fill="none"/><path d="M431.07 683.75H437.68" stroke="#111" stroke-width="1.2" fill="none"/>
<path d="M403 564.25V694.5M397.5 694.5H445" stroke="#111" stroke-width="1.2" fill="none"/>
<path d="M397.5 694.5H403M397.5 669.75H403M397.5 645H403M397.5 620.25H403M397.5 595.5H403M397.5 570.75H403" stroke="#111" stroke-width="1" fill="none"/>
<text x="394.5" y="697.5" class="tk" textLength="5.11" lengthAdjust="spacingAndGlyphs">0</text>
<text x="394.5" y="672.75" class="tk" textLength="10.23" lengthAdjust="spacingAndGlyphs">20</text>
<text x="394.5" y="648" class="tk" textLength="10.23" lengthAdjust="spacingAndGlyphs">40</text>
<text x="394.5" y="623.25" class="tk" textLength="10.23" lengthAdjust="spacingAndGlyphs">60</text>
<text x="394.5" y="598.5" class="tk" textLength="10.23" lengthAdjust="spacingAndGlyphs">80</text>
<text x="394.5" y="573.75" class="tk">100</text>
<g transform="translate(374.9 629.38) rotate(-90)"><text class="yl" x="-25.3" textLength="12.6" lengthAdjust="spacingAndGlyphs">OCR</text><text class="yl" x="-10.6" textLength="36" lengthAdjust="spacingAndGlyphs">(pmol/min)</text></g>
<text x="424" y="557.6" class="tt" textLength="38.6" lengthAdjust="spacingAndGlyphs">patient 2</text>
<path d="M415.35 577H431.85" stroke="#111" stroke-width="1.1" fill="none"/>
<circle cx="423.4" cy="571.6" r="1.3" fill="#222"/>

<rect x="456.7" y="185.5" width="13.2" height="6.2" fill="#c5022a"/>
<rect x="456.7" y="199.9" width="13.2" height="6.2" fill="#144887"/>
<text x="473.1" y="190.9" class="lg" textLength="32.5" lengthAdjust="spacingAndGlyphs">untreated</text>
<text x="473.4" y="204.9" class="lg" textLength="36" lengthAdjust="spacingAndGlyphs">+MK2206</text>
<rect x="461.2" y="533.7" width="19.8" height="6.1" fill="#c5022a"/>
<rect x="461.2" y="548.1" width="19.8" height="6.1" fill="#144887"/>
<text x="484.3" y="538.9" class="lg" textLength="32" lengthAdjust="spacingAndGlyphs">untreated</text>
<text x="484.5" y="553.3" class="lg" textLength="36" lengthAdjust="spacingAndGlyphs">+MK2206</text>

</svg>
</body></html>
